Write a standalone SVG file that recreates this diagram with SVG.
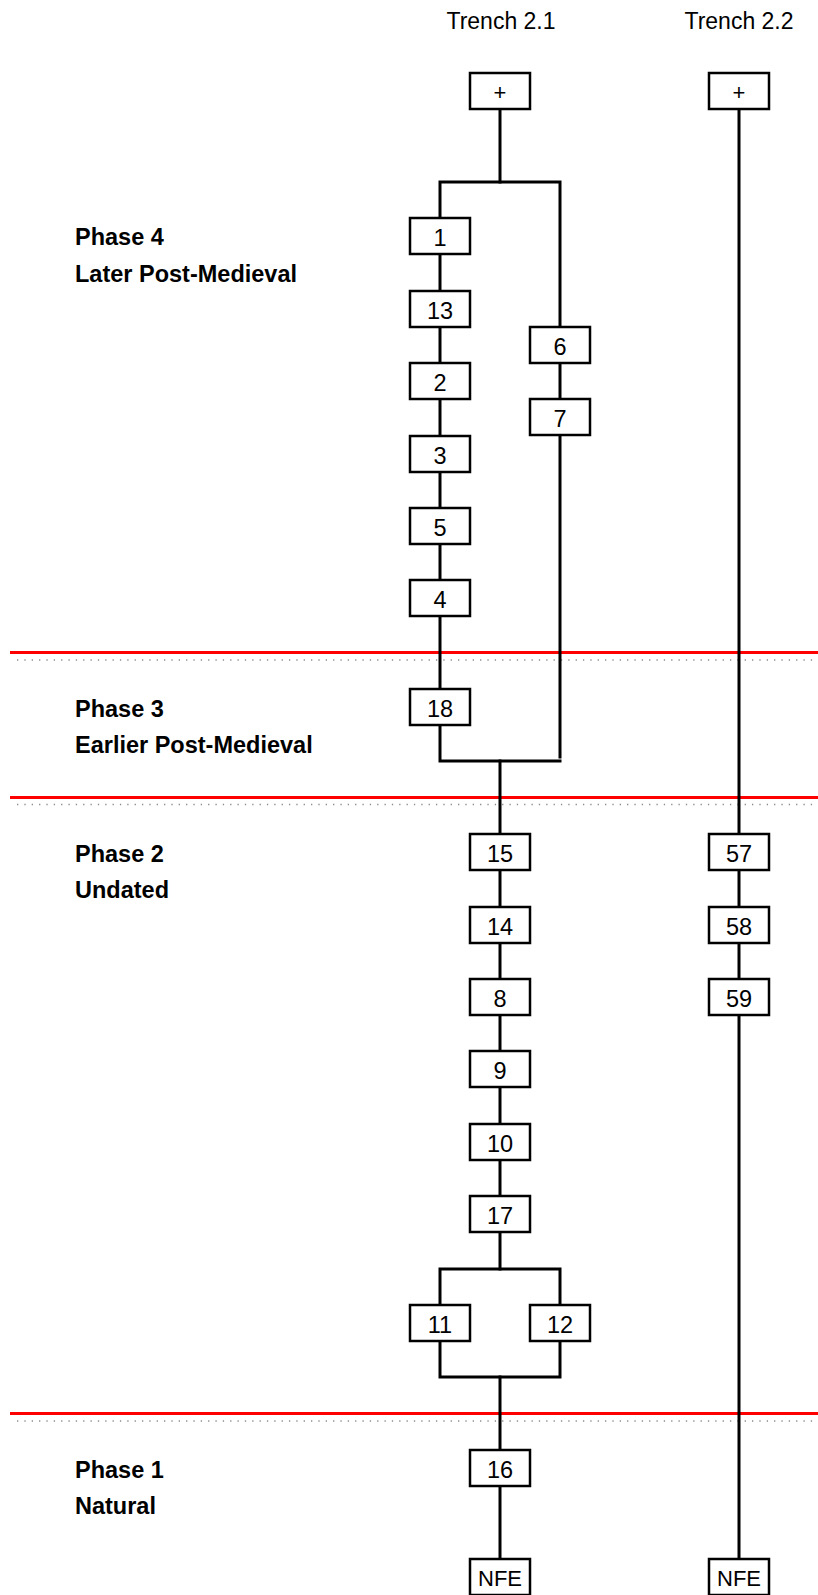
<svg xmlns="http://www.w3.org/2000/svg" width="818" height="1595" viewBox="0 0 818 1595">
  <style>
    .bg { fill: #ffffff; }
    .box use { fill: #ffffff; stroke: #000000; stroke-width: 2.5; }
    .box text { font-family: "Liberation Sans", Arial, sans-serif; font-size: 23.5px; fill: #000000; text-anchor: middle; }
    .box text.term { font-size: 22px; }
    .hdr { font-family: "Liberation Sans", Arial, sans-serif; font-size: 23px; fill: #000000; text-anchor: middle; }
    .phase { font-family: "Liberation Sans", Arial, sans-serif; font-size: 23.5px; font-weight: bold; fill: #000000; }
    .conn { fill: none; stroke: #000000; stroke-width: 3; stroke-linecap: square; }
    .redline { stroke: #ff0000; stroke-width: 3; }
    .dotline { stroke: #8c8c8c; stroke-width: 1.3; stroke-dasharray: 1.3 6.05; }
  </style>
  <defs>
    <!-- context box; fill/stroke are inherited from the <use> -->
    <rect id="cell" x="-30" y="0" width="60" height="36"/>
  </defs>

  <rect class="bg" x="0" y="0" width="818" height="1595"/>

  <!-- column headers -->
  <g id="headers">
    <text class="hdr" x="501" y="29">Trench 2.1</text>
    <text class="hdr" x="739" y="29">Trench 2.2</text>
  </g>

  <!-- phase dividers: solid red with dotted grey guide beneath -->
  <g id="dividers">
    <line class="redline" x1="10" y1="652.5" x2="818" y2="652.5"/>
    <line class="dotline" x1="17" y1="660" x2="818" y2="660"/>
    <line class="redline" x1="10" y1="797.5" x2="818" y2="797.5"/>
    <line class="dotline" x1="17" y1="804.5" x2="818" y2="804.5"/>
    <line class="redline" x1="10" y1="1413.5" x2="818" y2="1413.5"/>
    <line class="dotline" x1="17" y1="1421" x2="818" y2="1421"/>
  </g>

  <!-- phase labels -->
  <g id="phase-labels">
    <text class="phase" x="75" y="245">Phase 4</text>
    <text class="phase" x="75" y="282">Later Post-Medieval</text>
    <text class="phase" x="75" y="717">Phase 3</text>
    <text class="phase" x="75" y="753">Earlier Post-Medieval</text>
    <text class="phase" x="75" y="862">Phase 2</text>
    <text class="phase" x="75" y="898">Undated</text>
    <text class="phase" x="75" y="1478">Phase 1</text>
    <text class="phase" x="75" y="1514">Natural</text>
  </g>

  <!-- stratigraphic links -->
  <g id="connectors">
    <!-- Trench 2.1 top split -->
    <polyline class="conn" points="500,109 500,182"/>
    <polyline class="conn" points="440,218 440,182 560,182 560,327"/>
    <!-- left sequence -->
    <line class="conn" x1="440" y1="254" x2="440" y2="291"/>
    <line class="conn" x1="440" y1="327" x2="440" y2="363"/>
    <line class="conn" x1="440" y1="399" x2="440" y2="436"/>
    <line class="conn" x1="440" y1="472" x2="440" y2="508"/>
    <line class="conn" x1="440" y1="544" x2="440" y2="580"/>
    <line class="conn" x1="440" y1="616" x2="440" y2="689"/>
    <!-- right sequence -->
    <line class="conn" x1="560" y1="363" x2="560" y2="399"/>
    <line class="conn" x1="560" y1="435" x2="560" y2="757"/>
    <!-- merge -->
    <polyline class="conn" points="440,725 440,761 560,761"/>
    <line class="conn" x1="500" y1="761" x2="500" y2="834"/>
    <!-- central sequence -->
    <line class="conn" x1="500" y1="870" x2="500" y2="907"/>
    <line class="conn" x1="500" y1="943" x2="500" y2="979"/>
    <line class="conn" x1="500" y1="1015" x2="500" y2="1051"/>
    <line class="conn" x1="500" y1="1087" x2="500" y2="1124"/>
    <line class="conn" x1="500" y1="1160" x2="500" y2="1196"/>
    <line class="conn" x1="500" y1="1232" x2="500" y2="1269"/>
    <!-- split to 11 / 12 and rejoin -->
    <polyline class="conn" points="440,1305 440,1269 560,1269 560,1305"/>
    <polyline class="conn" points="440,1341 440,1377 560,1377 560,1341"/>
    <line class="conn" x1="500" y1="1377" x2="500" y2="1450"/>
    <line class="conn" x1="500" y1="1486" x2="500" y2="1559"/>
    <!-- Trench 2.2 -->
    <line class="conn" x1="739" y1="109" x2="739" y2="834"/>
    <line class="conn" x1="739" y1="870" x2="739" y2="907"/>
    <line class="conn" x1="739" y1="943" x2="739" y2="979"/>
    <line class="conn" x1="739" y1="1015" x2="739" y2="1559"/>
  </g>

  <!-- contexts, Trench 2.1 -->
  <g id="t21-top" class="box" transform="translate(500,73)"><use href="#cell"/><text class="term" x="0" y="27">+</text></g>
  <g id="ctx-1" class="box" transform="translate(440,218)"><use href="#cell"/><text x="0" y="28">1</text></g>
  <g id="ctx-13" class="box" transform="translate(440,291)"><use href="#cell"/><text x="0" y="28">13</text></g>
  <g id="ctx-2" class="box" transform="translate(440,363)"><use href="#cell"/><text x="0" y="28">2</text></g>
  <g id="ctx-3" class="box" transform="translate(440,436)"><use href="#cell"/><text x="0" y="28">3</text></g>
  <g id="ctx-5" class="box" transform="translate(440,508)"><use href="#cell"/><text x="0" y="28">5</text></g>
  <g id="ctx-4" class="box" transform="translate(440,580)"><use href="#cell"/><text x="0" y="28">4</text></g>
  <g id="ctx-6" class="box" transform="translate(560,327)"><use href="#cell"/><text x="0" y="28">6</text></g>
  <g id="ctx-7" class="box" transform="translate(560,399)"><use href="#cell"/><text x="0" y="28">7</text></g>
  <g id="ctx-18" class="box" transform="translate(440,689)"><use href="#cell"/><text x="0" y="28">18</text></g>
  <g id="ctx-15" class="box" transform="translate(500,834)"><use href="#cell"/><text x="0" y="28">15</text></g>
  <g id="ctx-14" class="box" transform="translate(500,907)"><use href="#cell"/><text x="0" y="28">14</text></g>
  <g id="ctx-8" class="box" transform="translate(500,979)"><use href="#cell"/><text x="0" y="28">8</text></g>
  <g id="ctx-9" class="box" transform="translate(500,1051)"><use href="#cell"/><text x="0" y="28">9</text></g>
  <g id="ctx-10" class="box" transform="translate(500,1124)"><use href="#cell"/><text x="0" y="28">10</text></g>
  <g id="ctx-17" class="box" transform="translate(500,1196)"><use href="#cell"/><text x="0" y="28">17</text></g>
  <g id="ctx-11" class="box" transform="translate(440,1305)"><use href="#cell"/><text x="0" y="28">11</text></g>
  <g id="ctx-12" class="box" transform="translate(560,1305)"><use href="#cell"/><text x="0" y="28">12</text></g>
  <g id="ctx-16" class="box" transform="translate(500,1450)"><use href="#cell"/><text x="0" y="28">16</text></g>
  <g id="t21-nfe" class="box" transform="translate(500,1559)"><use href="#cell"/><text class="term" x="0" y="27">NFE</text></g>

  <!-- contexts, Trench 2.2 -->
  <g id="t22-top" class="box" transform="translate(739,73)"><use href="#cell"/><text class="term" x="0" y="27">+</text></g>
  <g id="ctx-57" class="box" transform="translate(739,834)"><use href="#cell"/><text x="0" y="28">57</text></g>
  <g id="ctx-58" class="box" transform="translate(739,907)"><use href="#cell"/><text x="0" y="28">58</text></g>
  <g id="ctx-59" class="box" transform="translate(739,979)"><use href="#cell"/><text x="0" y="28">59</text></g>
  <g id="t22-nfe" class="box" transform="translate(739,1559)"><use href="#cell"/><text class="term" x="0" y="27">NFE</text></g>
</svg>
